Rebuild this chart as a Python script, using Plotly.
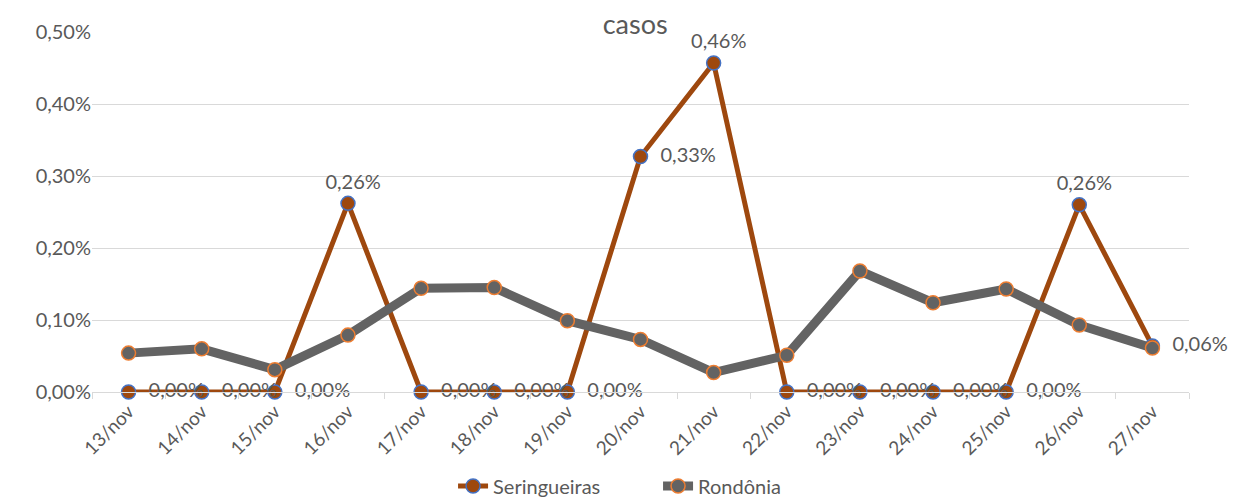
import plotly.graph_objects as go

categories = ["13/nov", "14/nov", "15/nov", "16/nov", "17/nov", "18/nov", "19/nov", "20/nov",
              "21/nov", "22/nov", "23/nov", "24/nov", "25/nov", "26/nov", "27/nov"]
seringueiras = [0.0, 0.0, 0.0, 0.00262, 0.0, 0.0, 0.0, 0.00327, 0.00457, 0.0, 0.0, 0.0, 0.0, 0.00260, 0.00064]
rondonia = [0.00054, 0.00060, 0.00031, 0.00079, 0.00144, 0.00145, 0.00099, 0.00073,
            0.00027, 0.00051, 0.00168, 0.00124, 0.00143, 0.00093, 0.00061]
label_pos = ["middle right", "middle right", "middle right", "top center", "middle right", "middle right",
             "middle right", "middle right", "top center", "middle right", "middle right", "middle right",
             "middle right", "top center", "middle right"]

FONT = "Lato"
GREY = "#595959"

fig = go.Figure()
fig.add_trace(go.Scatter(
    x=categories, y=seringueiras, name="Seringueiras", mode="lines+markers+text",
    line=dict(color="#9E480E", width=5),
    marker=dict(size=14, color="#9E480E", line=dict(color="#4472C4", width=1.5)),
    texttemplate="  %{y:.2%}", textposition=label_pos, cliponaxis=False,
    textfont=dict(family=FONT, size=20, color=GREY),
))
fig.add_trace(go.Scatter(
    x=categories, y=rondonia, name="Rondônia", mode="lines+markers",
    line=dict(color="#636363", width=9), cliponaxis=False,
    marker=dict(size=14, color="#636363", line=dict(color="#ED7D31", width=1.5)),
))

# page body adds an 8px offset, so the figure is sized to fit the 1245x498 window
fig.update_layout(
    width=1237, height=490,
    margin=dict(l=84, r=56, t=24, b=106, autoexpand=False),
    paper_bgcolor="white", plot_bgcolor="white",
    separators=",.",
    font=dict(family=FONT, size=20, color=GREY),
    title=dict(text="casos", x=0.507, xanchor="center", y=0.9653, yanchor="middle",
               font=dict(family=FONT, size=27, color=GREY)),
    showlegend=True,
    legend=dict(orientation="h", x=0.516, xanchor="center", y=-0.261, yanchor="middle",
                entrywidth=160, entrywidthmode="pixels",
                font=dict(family=FONT, size=20, color=GREY)),
    xaxis=dict(type="category", range=[-0.5, 14.5], tickangle=-45, automargin=False,
               showline=True, linecolor="#D9D9D9", linewidth=1,
               ticks="outside", tickson="boundaries", ticklen=6, tickcolor="#D9D9D9",
               showgrid=False, tickfont=dict(family=FONT, size=19, color=GREY)),
    yaxis=dict(range=[0, 0.005], dtick=0.001, tickformat=".2%", automargin=False,
               showgrid=True, gridcolor="#D9D9D9", gridwidth=1,
               zeroline=False, showline=False, ticks="",
               tickfont=dict(family=FONT, size=20, color=GREY)),
)

fig.write_html("out.html")
